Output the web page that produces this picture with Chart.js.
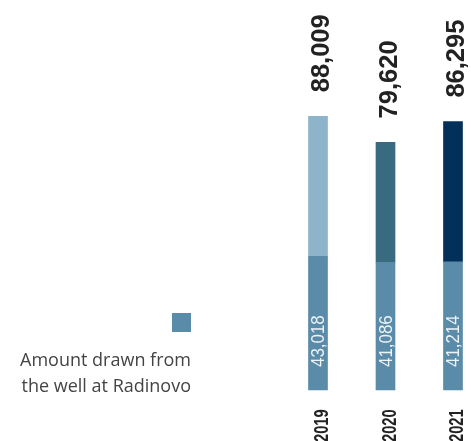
<!DOCTYPE html>
<html>
<head>
<meta charset="utf-8">
<script src="https://cdn.jsdelivr.net/npm/chart.js@4"></script>
<style>
  html, body { margin: 0; padding: 0; background: #fff; overflow: hidden; }
  #wrap { position: relative; width: 471px; height: 441px; }
  #legend { position: absolute; right: 280px; top: 313px; text-align: right;
    font-family: "Open Sans", sans-serif; font-size: 18px; line-height: 26px; color: #444; }
  #legend .sw { display: inline-block; width: 19px; height: 19px; background: #5a8ba8; margin-bottom: 8px; }
</style>
</head>
<body>
<div id="wrap">
  <canvas id="chart" width="471" height="441"></canvas>
  <div id="legend"><span class="sw"></span><br>Amount drawn from<br>the well at Radinovo</div>
</div>
<script>
const YEARS  = ["2019", "2020", "2021"];
const WELL   = [43018, 41086, 41214];
const TOTALS = [88009, 79620, 86295];
const OTHER  = TOTALS.map((t, i) => t - WELL[i]);

const WELL_COLOR  = "#5a8ba8";
const TOP_COLORS  = ["#8db4c8", "#386a80", "#03305a"];

const fmt = n => n.toLocaleString("en-US");

// rotated text, squeezed along its length to look condensed
function vText(ctx, txt, x, y, font, color, squeeze) {
  ctx.save();
  ctx.translate(x, y);
  ctx.rotate(-Math.PI / 2);
  ctx.scale(squeeze, 1);
  ctx.font = font;
  ctx.fillStyle = color;
  ctx.textAlign = "left";
  ctx.textBaseline = "alphabetic";
  ctx.fillText(txt, 0, 0);
  ctx.restore();
}

const labelPlugin = {
  id: "labels",
  afterDatasetsDraw(chart) {
    const ctx = chart.ctx;
    const base = chart.getDatasetMeta(0).data;
    const top  = chart.getDatasetMeta(1).data;
    base.forEach((bar, i) => {
      const x = bar.x;
      vText(ctx, fmt(WELL[i]), x + 6, bar.base - 23, "18px 'Liberation Sans', sans-serif", "#eef3f6", 0.94);
      vText(ctx, fmt(TOTALS[i]), x + 11, top[i].y - 24, "bold 25px 'Liberation Sans', sans-serif", "#222", 1.02);
      vText(ctx, YEARS[i], x + 10, 442, "bold 21px 'Liberation Sans', sans-serif", "#222", 0.7);
    });
  }
};

new Chart(document.getElementById("chart"), {
  type: "bar",
  data: {
    labels: YEARS,
    datasets: [
      { label: "Amount drawn from the well at Radinovo", data: WELL, backgroundColor: WELL_COLOR, barThickness: 19, clip: false },
      { label: "Other", data: OTHER, backgroundColor: TOP_COLORS, barThickness: 19, clip: false },
    ],
  },
  options: {
    responsive: false,
    animation: false,
    layout: { padding: { left: 318, right: 18, top: 79, bottom: 51 } },
    scales: {
      x: { stacked: true, offset: false, display: false },
      y: { stacked: true, min: 0, max: 100000, display: false },
    },
    plugins: { legend: { display: false }, tooltip: { enabled: false } },
  },
  plugins: [labelPlugin],
});
</script>
</body>
</html>
